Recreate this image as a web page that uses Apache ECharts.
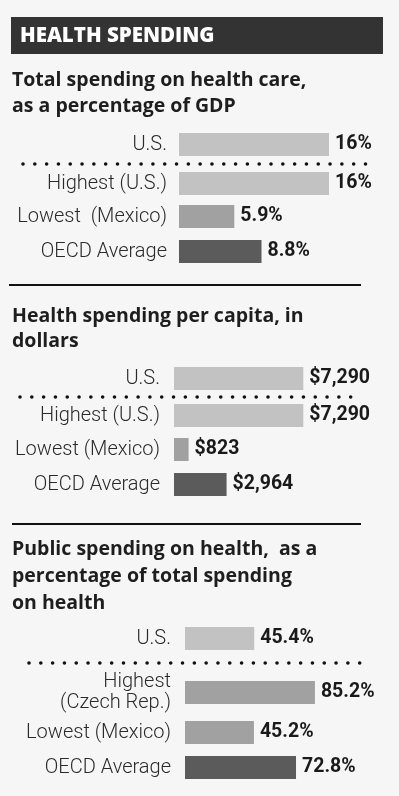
<!DOCTYPE html>
<html>
<head>
<meta charset="utf-8">
<script src="https://cdn.jsdelivr.net/npm/echarts@6/dist/echarts.min.js"></script>
<style>
  html, body { margin: 0; padding: 0; background: #f6f6f6; }
  #chart { width: 399px; height: 796px; }
</style>
</head>
<body>
<div id="chart"></div>
<script>
// data
const headerTitle = 'HEALTH SPENDING';

const title1 = 'Total spending on health care,\nas a percentage of GDP';
const labels1 = ['U.S.', 'Highest (U.S.)', 'Lowest  (Mexico)', 'OECD Average'];
const values1 = [16, 16, 5.9, 8.8];

const title2 = 'Health spending per capita, in\ndollars';
const labels2 = ['U.S.', 'Highest (U.S.)', 'Lowest (Mexico)', 'OECD Average'];
const values2 = [7290, 7290, 823, 2964];

const title3 = 'Public spending on health,  as a\npercentage of total spending\non health';
const labels3 = ['U.S.', 'Highest\n(Czech Rep.)', 'Lowest (Mexico)', 'OECD Average'];
const values3 = [45.4, 85.2, 45.2, 72.8];

const LIGHT = '#c2c2c2', MID = '#a1a1a1', DARK = '#5b5b5b';
const LABEL_FONT = "Roboto, 'Liberation Sans', sans-serif";
const TITLE_FONT = "'Open Sans', sans-serif";

// layout of each panel
const panels = [
  {
    title: title1, titleTop: 67, lineHeight: 26,
    labels: labels1, values: values1,
    colors: [LIGHT, LIGHT, MID, DARK],
    fmt: v => v + '%',
    left: 179, width: 187.5, max: 20, margin: 12,
    rowTops: [133, 172, 205, 240], rowH: 23,
    dots: { y: 164, x1: 23, x2: 366 }
  },
  {
    title: title2, titleTop: 304, lineHeight: 25,
    labels: labels2, values: values2,
    colors: [LIGHT, LIGHT, MID, DARK],
    fmt: v => '$' + v.toLocaleString('en-US'),
    left: 174, width: 141.9, max: 8000, margin: 14,
    rowTops: [367, 404, 438, 473], rowH: 23,
    dots: { y: 397, x1: 20, x2: 362 }
  },
  {
    title: title3, titleTop: 536, lineHeight: 27,
    labels: labels3, values: values3,
    colors: [LIGHT, MID, MID, DARK],
    fmt: v => v.toFixed(1) + '%',
    left: 185, width: 152.5, max: 100, margin: 14,
    rowTops: [627, 681, 721, 756], rowH: 23,
    dots: { y: 663, x1: 29, x2: 371 }
  }
];

const grid = [], xAxis = [], yAxis = [], series = [];
const graphic = [
  { type: 'rect', shape: { x: 11, y: 17, width: 372, height: 37 }, style: { fill: '#333333' } },
  {
    type: 'text', x: 20, y: 36,
    style: { text: headerTitle, fill: '#fff', fontSize: 20.5, fontWeight: 800, fontFamily: TITLE_FONT, verticalAlign: 'middle' }
  },
  { type: 'line', shape: { x1: 9, y1: 285, x2: 361, y2: 285 }, style: { stroke: '#111', lineWidth: 2 } },
  { type: 'line', shape: { x1: 12, y1: 524, x2: 361, y2: 524 }, style: { stroke: '#111', lineWidth: 2 } }
];

panels.forEach(p => {
  graphic.push({
    type: 'text', x: 12, y: p.titleTop,
    style: {
      text: p.title, fill: '#1e1e1e', fontSize: 19.5, fontWeight: 700,
      fontFamily: TITLE_FONT, lineHeight: p.lineHeight, verticalAlign: 'top'
    }
  });
  graphic.push({
    type: 'line',
    shape: { x1: p.dots.x1, y1: p.dots.y, x2: p.dots.x2, y2: p.dots.y },
    style: { stroke: '#111', lineWidth: 3.6, lineDash: [0.01, 11.8], lineCap: 'round' }
  });

  p.labels.forEach((lab, i) => {
    const idx = grid.length;
    grid.push({ left: p.left, top: p.rowTops[i], width: p.width, height: p.rowH });
    xAxis.push({ type: 'value', gridIndex: idx, min: 0, max: p.max, show: false });
    yAxis.push({
      type: 'category', gridIndex: idx, data: [lab],
      axisLine: { show: false }, axisTick: { show: false },
      axisLabel: {
        margin: p.margin, fontSize: 20, fontWeight: 300, color: '#2a2a2a', fontFamily: LABEL_FONT,
        lineHeight: 21, align: 'right'
      }
    });
    series.push({
      type: 'bar', xAxisIndex: idx, yAxisIndex: idx,
      barWidth: '100%', silent: true, animation: false,
      data: [{ value: p.values[i], itemStyle: { color: p.colors[i] } }],
      label: {
        show: true, position: 'right', distance: 6,
        formatter: d => p.fmt(d.value),
        fontSize: 19.5, fontWeight: 'bold', color: '#1a1a1a', fontFamily: LABEL_FONT
      }
    });
  });
});

const chart = echarts.init(document.getElementById('chart'));
chart.setOption({
  backgroundColor: '#f6f6f6',
  animation: false,
  grid, xAxis, yAxis, series, graphic
});
</script>
</body>
</html>
